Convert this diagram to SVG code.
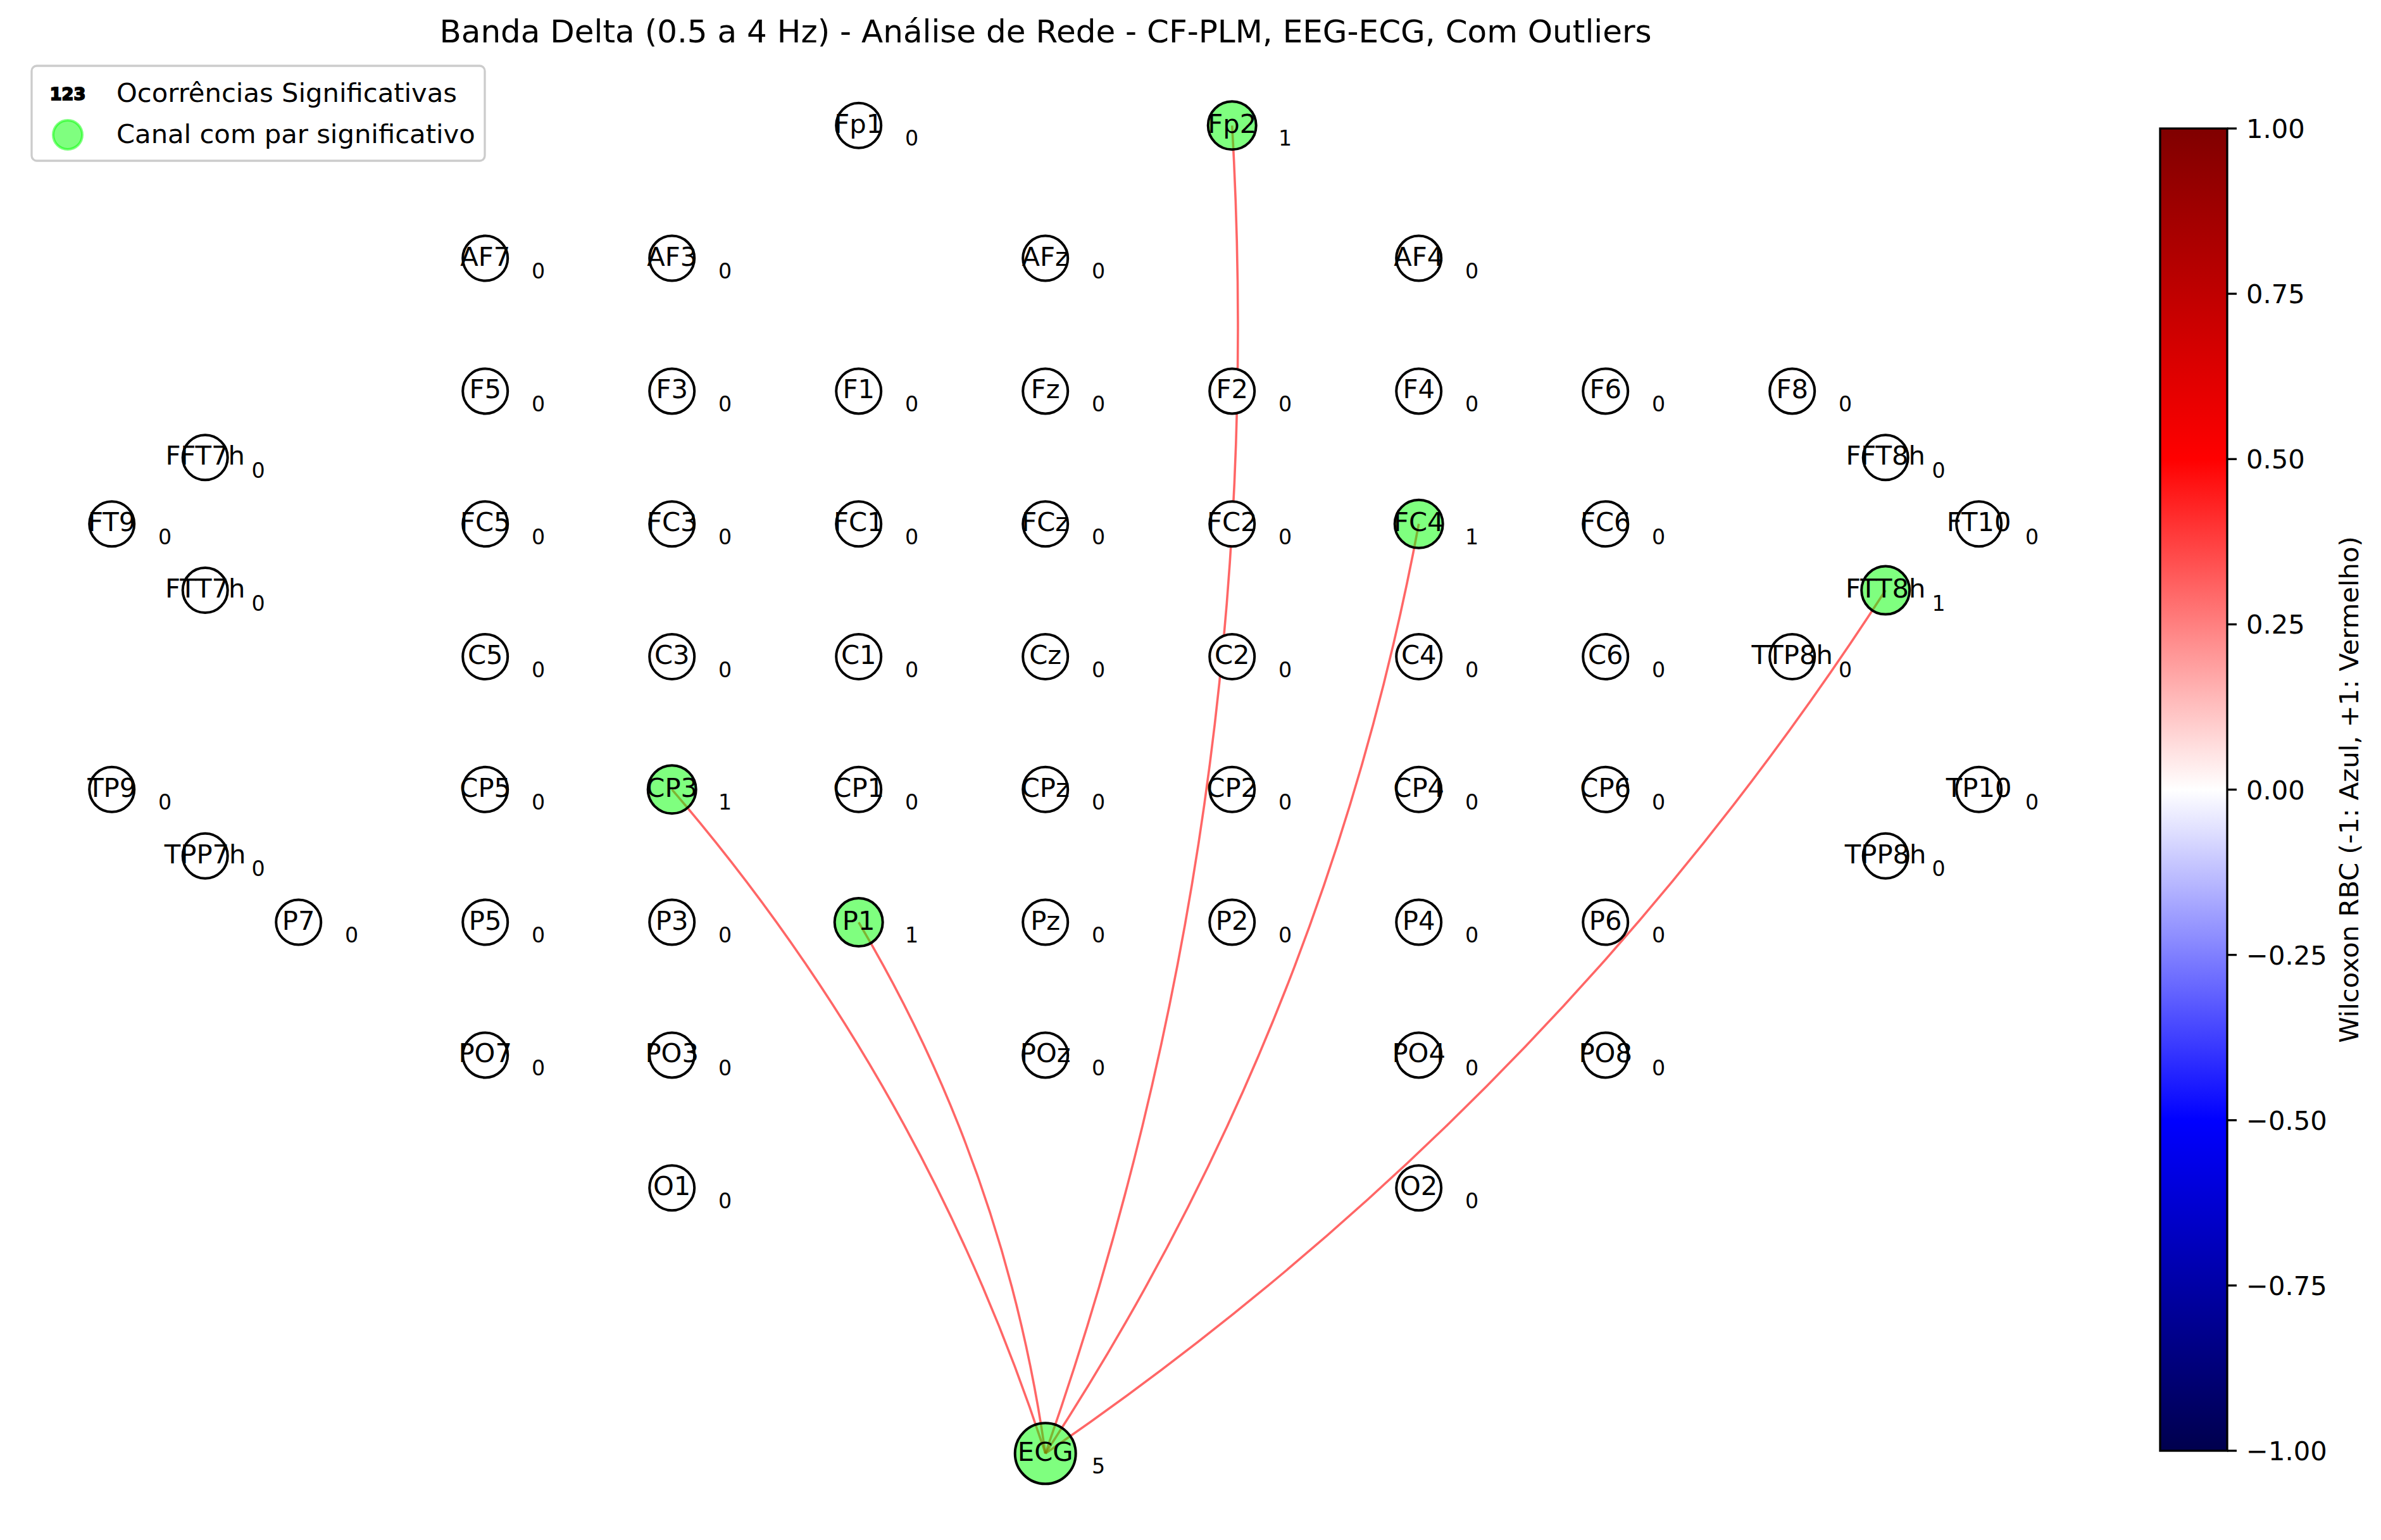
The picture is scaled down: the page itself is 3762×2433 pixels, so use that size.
<svg xmlns="http://www.w3.org/2000/svg" width="3762" height="2433" viewBox="0 0 3762 2433">
<defs>
<linearGradient id="seismic" x1="0" y1="0" x2="0" y2="1">
<stop offset="0" stop-color="#800000"/>
<stop offset="0.25" stop-color="#ff0000"/>
<stop offset="0.5" stop-color="#ffffff"/>
<stop offset="0.75" stop-color="#0000ff"/>
<stop offset="1" stop-color="#00004d"/>
</linearGradient>
</defs>
<style>
text{font-family:"DejaVu Sans","Liberation Sans",sans-serif;fill:#000}
.n circle{fill:#fff;stroke:#000;stroke-width:4}
.n.g circle{fill:#00ff00;fill-opacity:.5}
.l{font-size:41.7px;text-anchor:middle}
.c{font-size:33.3px;text-anchor:middle}
.e{fill:none;stroke:#ff0000;stroke-opacity:.6;stroke-width:3.6}
.tk{stroke:#000;stroke-width:3.3}
.tl{font-size:41.7px}
</style>
<rect width="3762" height="2433" fill="#fff"/>
<text x="1652" y="67" font-size="50" text-anchor="middle">Banda Delta (0.5 a 4 Hz) - Análise de Rede - CF-PLM, EEG-ECG, Com Outliers</text>
<g id="edges">
<path class="e" d="M1651.7,2296.3 Q2009.0,1276.8 1946.7,198.3"/>
<path class="e" d="M1651.7,2296.3 Q2093.6,1621.0 2241.7,827.7"/>
<path class="e" d="M1651.7,2296.3 Q2451.8,1747.2 2979.2,932.6"/>
<path class="e" d="M1651.7,2296.3 Q1461.6,1712.8 1061.7,1247.3"/>
<path class="e" d="M1651.7,2296.3 Q1588.1,1847.2 1356.7,1457.1"/>
</g>
<g id="nodes">
<g id="Fp1" class="n" transform="translate(1356.7,198.3)"><circle r="35.5"/><text class="l" y="11.5">Fp1</text><text class="c" x="84" y="32">0</text></g>
<g id="Fp2" class="n g" transform="translate(1946.7,198.3)"><circle r="38"/><text class="l" y="11.5">Fp2</text><text class="c" x="84" y="32">1</text></g>
<g id="AF7" class="n" transform="translate(766.7,408.1)"><circle r="35.5"/><text class="l" y="11.5">AF7</text><text class="c" x="84" y="32">0</text></g>
<g id="AF3" class="n" transform="translate(1061.7,408.1)"><circle r="35.5"/><text class="l" y="11.5">AF3</text><text class="c" x="84" y="32">0</text></g>
<g id="AFz" class="n" transform="translate(1651.7,408.1)"><circle r="35.5"/><text class="l" y="11.5">AFz</text><text class="c" x="84" y="32">0</text></g>
<g id="AF4" class="n" transform="translate(2241.7,408.1)"><circle r="35.5"/><text class="l" y="11.5">AF4</text><text class="c" x="84" y="32">0</text></g>
<g id="F5" class="n" transform="translate(766.7,617.9)"><circle r="35.5"/><text class="l" y="11.5">F5</text><text class="c" x="84" y="32">0</text></g>
<g id="F3" class="n" transform="translate(1061.7,617.9)"><circle r="35.5"/><text class="l" y="11.5">F3</text><text class="c" x="84" y="32">0</text></g>
<g id="F1" class="n" transform="translate(1356.7,617.9)"><circle r="35.5"/><text class="l" y="11.5">F1</text><text class="c" x="84" y="32">0</text></g>
<g id="Fz" class="n" transform="translate(1651.7,617.9)"><circle r="35.5"/><text class="l" y="11.5">Fz</text><text class="c" x="84" y="32">0</text></g>
<g id="F2" class="n" transform="translate(1946.7,617.9)"><circle r="35.5"/><text class="l" y="11.5">F2</text><text class="c" x="84" y="32">0</text></g>
<g id="F4" class="n" transform="translate(2241.7,617.9)"><circle r="35.5"/><text class="l" y="11.5">F4</text><text class="c" x="84" y="32">0</text></g>
<g id="F6" class="n" transform="translate(2536.7,617.9)"><circle r="35.5"/><text class="l" y="11.5">F6</text><text class="c" x="84" y="32">0</text></g>
<g id="F8" class="n" transform="translate(2831.7,617.9)"><circle r="35.5"/><text class="l" y="11.5">F8</text><text class="c" x="84" y="32">0</text></g>
<g id="FFT7h" class="n" transform="translate(324.2,722.8)"><circle r="35.5"/><text class="l" y="11.5">FFT7h</text><text class="c" x="84" y="32">0</text></g>
<g id="FFT8h" class="n" transform="translate(2979.2,722.8)"><circle r="35.5"/><text class="l" y="11.5">FFT8h</text><text class="c" x="84" y="32">0</text></g>
<g id="FT9" class="n" transform="translate(176.7,827.7)"><circle r="35.5"/><text class="l" y="11.5">FT9</text><text class="c" x="84" y="32">0</text></g>
<g id="FC5" class="n" transform="translate(766.7,827.7)"><circle r="35.5"/><text class="l" y="11.5">FC5</text><text class="c" x="84" y="32">0</text></g>
<g id="FC3" class="n" transform="translate(1061.7,827.7)"><circle r="35.5"/><text class="l" y="11.5">FC3</text><text class="c" x="84" y="32">0</text></g>
<g id="FC1" class="n" transform="translate(1356.7,827.7)"><circle r="35.5"/><text class="l" y="11.5">FC1</text><text class="c" x="84" y="32">0</text></g>
<g id="FCz" class="n" transform="translate(1651.7,827.7)"><circle r="35.5"/><text class="l" y="11.5">FCz</text><text class="c" x="84" y="32">0</text></g>
<g id="FC2" class="n" transform="translate(1946.7,827.7)"><circle r="35.5"/><text class="l" y="11.5">FC2</text><text class="c" x="84" y="32">0</text></g>
<g id="FC4" class="n g" transform="translate(2241.7,827.7)"><circle r="38"/><text class="l" y="11.5">FC4</text><text class="c" x="84" y="32">1</text></g>
<g id="FC6" class="n" transform="translate(2536.7,827.7)"><circle r="35.5"/><text class="l" y="11.5">FC6</text><text class="c" x="84" y="32">0</text></g>
<g id="FT10" class="n" transform="translate(3126.7,827.7)"><circle r="35.5"/><text class="l" y="11.5">FT10</text><text class="c" x="84" y="32">0</text></g>
<g id="FTT7h" class="n" transform="translate(324.2,932.6)"><circle r="35.5"/><text class="l" y="11.5">FTT7h</text><text class="c" x="84" y="32">0</text></g>
<g id="FTT8h" class="n g" transform="translate(2979.2,932.6)"><circle r="38"/><text class="l" y="11.5">FTT8h</text><text class="c" x="84" y="32">1</text></g>
<g id="C5" class="n" transform="translate(766.7,1037.5)"><circle r="35.5"/><text class="l" y="11.5">C5</text><text class="c" x="84" y="32">0</text></g>
<g id="C3" class="n" transform="translate(1061.7,1037.5)"><circle r="35.5"/><text class="l" y="11.5">C3</text><text class="c" x="84" y="32">0</text></g>
<g id="C1" class="n" transform="translate(1356.7,1037.5)"><circle r="35.5"/><text class="l" y="11.5">C1</text><text class="c" x="84" y="32">0</text></g>
<g id="Cz" class="n" transform="translate(1651.7,1037.5)"><circle r="35.5"/><text class="l" y="11.5">Cz</text><text class="c" x="84" y="32">0</text></g>
<g id="C2" class="n" transform="translate(1946.7,1037.5)"><circle r="35.5"/><text class="l" y="11.5">C2</text><text class="c" x="84" y="32">0</text></g>
<g id="C4" class="n" transform="translate(2241.7,1037.5)"><circle r="35.5"/><text class="l" y="11.5">C4</text><text class="c" x="84" y="32">0</text></g>
<g id="C6" class="n" transform="translate(2536.7,1037.5)"><circle r="35.5"/><text class="l" y="11.5">C6</text><text class="c" x="84" y="32">0</text></g>
<g id="TTP8h" class="n" transform="translate(2831.7,1037.5)"><circle r="35.5"/><text class="l" y="11.5">TTP8h</text><text class="c" x="84" y="32">0</text></g>
<g id="TP9" class="n" transform="translate(176.7,1247.3)"><circle r="35.5"/><text class="l" y="11.5">TP9</text><text class="c" x="84" y="32">0</text></g>
<g id="CP5" class="n" transform="translate(766.7,1247.3)"><circle r="35.5"/><text class="l" y="11.5">CP5</text><text class="c" x="84" y="32">0</text></g>
<g id="CP3" class="n g" transform="translate(1061.7,1247.3)"><circle r="38"/><text class="l" y="11.5">CP3</text><text class="c" x="84" y="32">1</text></g>
<g id="CP1" class="n" transform="translate(1356.7,1247.3)"><circle r="35.5"/><text class="l" y="11.5">CP1</text><text class="c" x="84" y="32">0</text></g>
<g id="CPz" class="n" transform="translate(1651.7,1247.3)"><circle r="35.5"/><text class="l" y="11.5">CPz</text><text class="c" x="84" y="32">0</text></g>
<g id="CP2" class="n" transform="translate(1946.7,1247.3)"><circle r="35.5"/><text class="l" y="11.5">CP2</text><text class="c" x="84" y="32">0</text></g>
<g id="CP4" class="n" transform="translate(2241.7,1247.3)"><circle r="35.5"/><text class="l" y="11.5">CP4</text><text class="c" x="84" y="32">0</text></g>
<g id="CP6" class="n" transform="translate(2536.7,1247.3)"><circle r="35.5"/><text class="l" y="11.5">CP6</text><text class="c" x="84" y="32">0</text></g>
<g id="TP10" class="n" transform="translate(3126.7,1247.3)"><circle r="35.5"/><text class="l" y="11.5">TP10</text><text class="c" x="84" y="32">0</text></g>
<g id="TPP7h" class="n" transform="translate(324.2,1352.2)"><circle r="35.5"/><text class="l" y="11.5">TPP7h</text><text class="c" x="84" y="32">0</text></g>
<g id="TPP8h" class="n" transform="translate(2979.2,1352.2)"><circle r="35.5"/><text class="l" y="11.5">TPP8h</text><text class="c" x="84" y="32">0</text></g>
<g id="P7" class="n" transform="translate(471.7,1457.1)"><circle r="35.5"/><text class="l" y="11.5">P7</text><text class="c" x="84" y="32">0</text></g>
<g id="P5" class="n" transform="translate(766.7,1457.1)"><circle r="35.5"/><text class="l" y="11.5">P5</text><text class="c" x="84" y="32">0</text></g>
<g id="P3" class="n" transform="translate(1061.7,1457.1)"><circle r="35.5"/><text class="l" y="11.5">P3</text><text class="c" x="84" y="32">0</text></g>
<g id="P1" class="n g" transform="translate(1356.7,1457.1)"><circle r="38"/><text class="l" y="11.5">P1</text><text class="c" x="84" y="32">1</text></g>
<g id="Pz" class="n" transform="translate(1651.7,1457.1)"><circle r="35.5"/><text class="l" y="11.5">Pz</text><text class="c" x="84" y="32">0</text></g>
<g id="P2" class="n" transform="translate(1946.7,1457.1)"><circle r="35.5"/><text class="l" y="11.5">P2</text><text class="c" x="84" y="32">0</text></g>
<g id="P4" class="n" transform="translate(2241.7,1457.1)"><circle r="35.5"/><text class="l" y="11.5">P4</text><text class="c" x="84" y="32">0</text></g>
<g id="P6" class="n" transform="translate(2536.7,1457.1)"><circle r="35.5"/><text class="l" y="11.5">P6</text><text class="c" x="84" y="32">0</text></g>
<g id="PO7" class="n" transform="translate(766.7,1666.9)"><circle r="35.5"/><text class="l" y="11.5">PO7</text><text class="c" x="84" y="32">0</text></g>
<g id="PO3" class="n" transform="translate(1061.7,1666.9)"><circle r="35.5"/><text class="l" y="11.5">PO3</text><text class="c" x="84" y="32">0</text></g>
<g id="POz" class="n" transform="translate(1651.7,1666.9)"><circle r="35.5"/><text class="l" y="11.5">POz</text><text class="c" x="84" y="32">0</text></g>
<g id="PO4" class="n" transform="translate(2241.7,1666.9)"><circle r="35.5"/><text class="l" y="11.5">PO4</text><text class="c" x="84" y="32">0</text></g>
<g id="PO8" class="n" transform="translate(2536.7,1666.9)"><circle r="35.5"/><text class="l" y="11.5">PO8</text><text class="c" x="84" y="32">0</text></g>
<g id="O1" class="n" transform="translate(1061.7,1876.7)"><circle r="35.5"/><text class="l" y="11.5">O1</text><text class="c" x="84" y="32">0</text></g>
<g id="O2" class="n" transform="translate(2241.7,1876.7)"><circle r="35.5"/><text class="l" y="11.5">O2</text><text class="c" x="84" y="32">0</text></g>
<g id="ECG" class="n g" transform="translate(1651.7,2296.3)"><circle r="48"/><text class="l" y="11.5">ECG</text><text class="c" x="84" y="32">5</text></g>
</g>
<g id="legend">
<rect x="50" y="104" width="716" height="150" rx="8" fill="#fff" fill-opacity="0.8" stroke="#cccccc" stroke-width="3.3"/>
<text x="107" y="158" font-size="27" font-weight="bold" text-anchor="middle" stroke="#000" stroke-width="2">123</text>
<text x="184" y="161" font-size="41.7">Ocorrências Significativas</text>
<circle cx="107" cy="213" r="23" fill="#00ff00" fill-opacity="0.5" stroke="#00ff00" stroke-opacity="0.5" stroke-width="4"/>
<text x="184" y="226" font-size="41.7">Canal com par significativo</text>
</g>
<g id="colorbar">
<rect x="3413" y="203" width="106" height="2089" fill="url(#seismic)" stroke="#000" stroke-width="3.3"/>
<line class="tk" x1="3519" y1="203" x2="3534" y2="203"/>
<line class="tk" x1="3519" y1="464.1" x2="3534" y2="464.1"/>
<line class="tk" x1="3519" y1="725.3" x2="3534" y2="725.3"/>
<line class="tk" x1="3519" y1="986.4" x2="3534" y2="986.4"/>
<line class="tk" x1="3519" y1="1247.5" x2="3534" y2="1247.5"/>
<line class="tk" x1="3519" y1="1508.6" x2="3534" y2="1508.6"/>
<line class="tk" x1="3519" y1="1769.8" x2="3534" y2="1769.8"/>
<line class="tk" x1="3519" y1="2030.9" x2="3534" y2="2030.9"/>
<line class="tk" x1="3519" y1="2292" x2="3534" y2="2292"/>
<text class="tl" x="3549" y="218">1.00</text>
<text class="tl" x="3549" y="479.1">0.75</text>
<text class="tl" x="3549" y="740.3">0.50</text>
<text class="tl" x="3549" y="1001.4">0.25</text>
<text class="tl" x="3549" y="1262.5">0.00</text>
<text class="tl" x="3549" y="1523.6">−0.25</text>
<text class="tl" x="3549" y="1784.8">−0.50</text>
<text class="tl" x="3549" y="2045.9">−0.75</text>
<text class="tl" x="3549" y="2307">−1.00</text>
<text class="tl" text-anchor="middle" transform="translate(3726,1247.5) rotate(-90)">Wilcoxon RBC (-1: Azul, +1: Vermelho)</text>
</g>
</svg>
